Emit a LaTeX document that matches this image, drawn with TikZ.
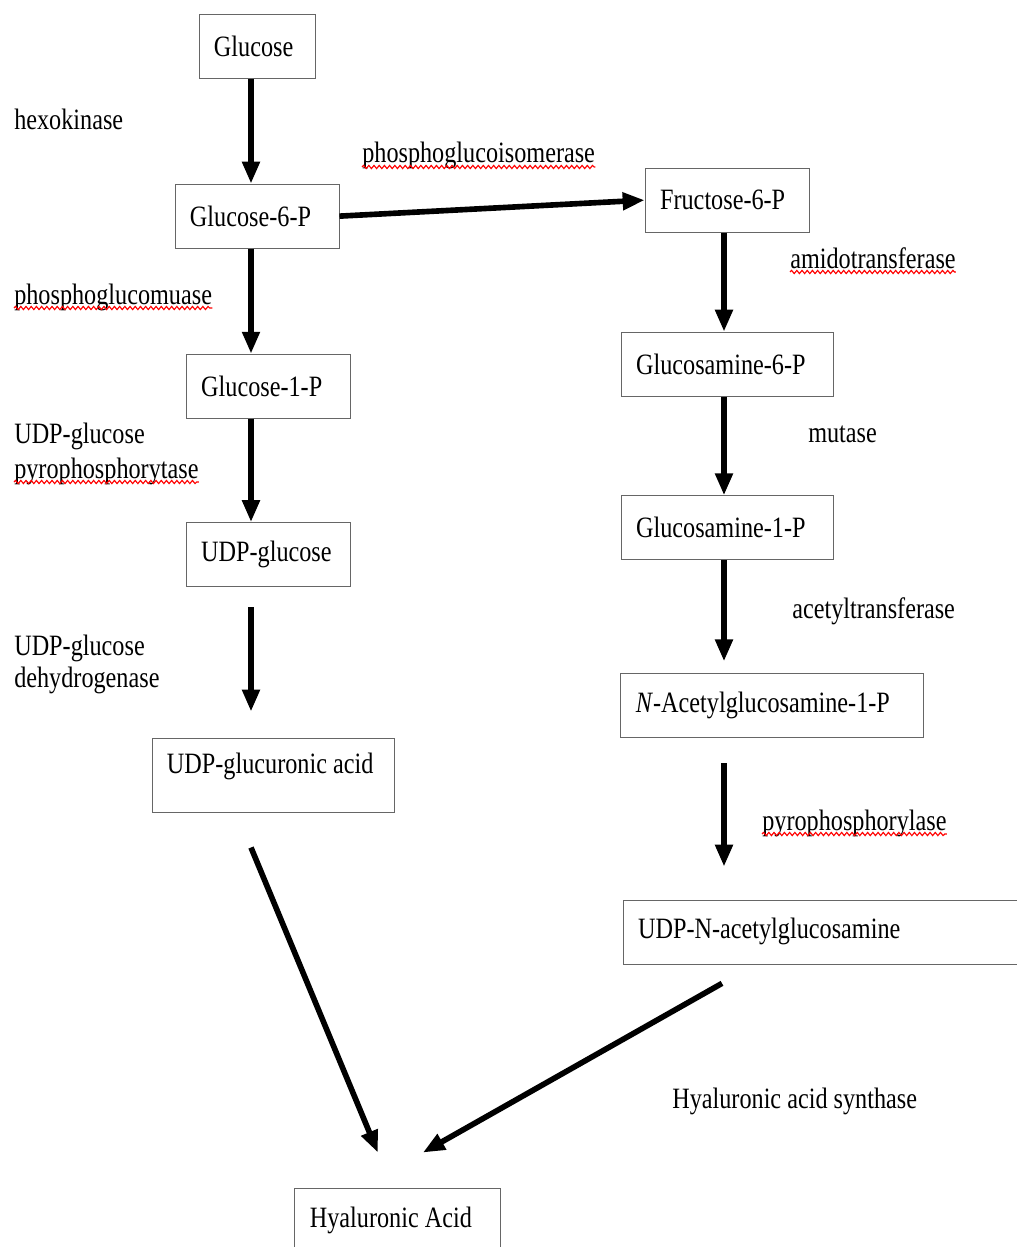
\documentclass[tikz,border=0pt]{standalone}
\usepackage{fontspec}
\setmainfont{Liberation Serif}[FakeStretch=0.82]
\usetikzlibrary{arrows.meta, positioning, calc, decorations.pathmorphing}

\begin{document}
\begin{tikzpicture}[
    x=0.025cm, y=-0.025cm,
    on grid,
    every node/.style={font=\fontsize{21}{24}\selectfont},
    cmpd/.style={rectangle, draw=black!60, line width=0.6pt, inner xsep=0.375cm,
                 text width=#1, align=flush left, minimum height=1.6cm},
    cmpd/.default=3.35cm,
    enz/.style={inner sep=0pt, anchor=base west},
    arr/.style={-{Triangle[length=5.5mm, width=4.2mm]}, line width=4pt},
    wavy/.style={draw=red, line width=0.8pt, decorate, decoration={snake, amplitude=0.4mm, segment length=1.3mm}}
]
    \useasboundingbox (0,0) rectangle (1017,1247);

    % glucuronic acid branch
    \node[cmpd=2.15cm]                       (glc)     at (257,46.5) {Glucose};
    \node[cmpd, below=4.24cm of glc]         (g6p)     {Glucose-6-P};
    \node[cmpd, below right=4.25cm and 0.28cm of g6p] (g1p) {Glucose-1-P};
    \node[cmpd, below=4.21cm of g1p]         (udpglc)  {UDP-glucose};
    \node[cmpd=5.3cm, minimum height=1.85cm, text depth=0.6cm,
          below right=5.51cm and 0.12cm of udpglc] (udpglca) {UDP-glucuronic acid};
    \node[cmpd=4.4cm,
          below right=11.12cm and 3.12cm of udpglca] (ha) {Hyaluronic Acid};

    % glucosamine branch
    \node[cmpd, above right=0.4cm and 11.75cm of g6p] (f6p) {Fructose-6-P};
    \node[cmpd=4.55cm, below=4.1cm of f6p]     (glcn6p) {Glucosamine-6-P};
    \node[cmpd=4.55cm, below=4.09cm of glcn6p] (glcn1p) {Glucosamine-1-P};
    \node[cmpd=6.8cm,
          below right=4.45cm and 1.12cm of glcn1p] (glcnac1p) {\textit{N}-Acetylglucosamine-1-P};
    \node[cmpd=9.45cm,
          below right=5.65cm and 1.38cm of glcnac1p] (udpglcnac) {UDP-N-acetylglucosamine};

    % enzymes
    \node[enz] (hexo)   at (14,130)   {hexokinase};
    \node[enz] (pgi)    at (362,163)  {phosphoglucoisomerase};
    \node[enz] (pgm)    at (14,304)   {phosphoglucomuase};
    \node[enz] (ugp1)   at (14,443)   {UDP-glucose};
    \node[enz] (ugp2)   at (14,478)   {pyrophosphorytase};
    \node[enz] (ugdh1)  at (14,655)   {UDP-glucose};
    \node[enz] (ugdh2)  at (14,687)   {dehydrogenase};
    \node[enz] (amido)  at (790,268)  {amidotransferase};
    \node[enz] (mut)    at (808,442)  {mutase};
    \node[enz] (acetyl) at (792,618)  {acetyltransferase};
    \node[enz] (pyro)   at (762,830)  {pyrophosphorylase};
    \node[enz] (has)    at (672,1108) {Hyaluronic acid synthase};

    \foreach \w in {pgi, pgm, ugp2, amido, pyro}
        \draw[wavy] ($(\w.base west)+(0,4)$) -- ($(\w.base east)+(0,4)$);

    \coordinate (lcol) at (251,0);
    \coordinate (rcol) at (724,0);

    \draw[arr] (glc.south -| lcol) -- (g6p.north -| lcol);
    \draw[arr] (g6p.south -| lcol) -- (g1p.north -| lcol);
    \draw[arr] (g1p.south -| lcol) -- (udpglc.north -| lcol);
    \draw[arr, shorten <=0.5cm, shorten >=0.65cm] (udpglc.south -| lcol) -- (udpglca.north -| lcol);
    \draw[arr] ($(udpglca.south)+(-22,35)$) -- ($(ha.north)+(-20,-35)$);

    \draw[arr] (g6p.east) -- (f6p.west);
    \draw[arr] (f6p.south -| rcol) -- (glcn6p.north -| rcol);
    \draw[arr] (glcn6p.south -| rcol) -- (glcn1p.north -| rcol);
    \draw[arr, shorten >=0.3cm] (glcn1p.south -| rcol) -- (glcnac1p.north -| rcol);
    \draw[arr, shorten <=0.62cm, shorten >=0.82cm] (glcnac1p.south -| rcol) -- (udpglcnac.north -| rcol);
    \draw[arr] ($(udpglcnac.south -| rcol)+(-2,19)$) -- ($(ha.north)+(25,-35)$);
\end{tikzpicture}
\end{document}
